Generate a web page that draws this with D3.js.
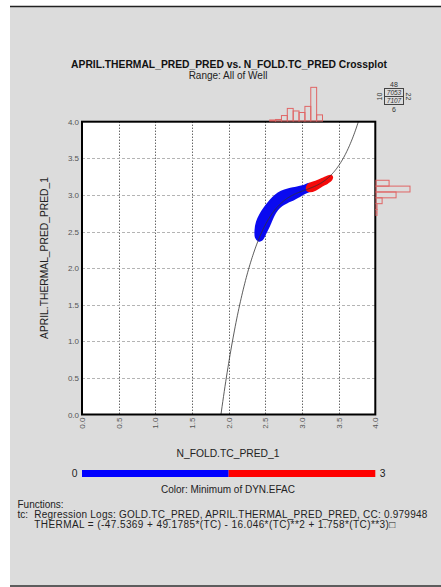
<!DOCTYPE html>
<html>
<head>
<meta charset="utf-8">
<script src="https://cdn.jsdelivr.net/npm/d3@7"></script>
<style>
  html, body { margin: 0; padding: 0; background: #ffffff; }
  svg { display: block; font-family: "Liberation Sans", Arial, sans-serif; }
</style>
</head>
<body>
<svg id="chart" width="441" height="587"></svg>
<script>
// Axis ticks (both axes run 0..4)
const xTicks = [0, 0.5, 1, 1.5, 2, 2.5, 3, 3.5, 4];
const yTicks = [0, 0.5, 1, 1.5, 2, 2.5, 3, 3.5, 4];

// Regression polynomial THERMAL = c0 + c1*TC + c2*TC^2 + c3*TC^3
const regCoef = [-47.5369, 49.1785, -16.046, 1.758];

// Outline of the dense blue point cloud (TC, THERMAL)
const blueCloud = [
  [2.410, 2.380], [2.375, 2.420], [2.370, 2.520], [2.390, 2.630], [2.435, 2.730],
  [2.500, 2.830], [2.570, 2.920], [2.640, 2.990], [2.720, 3.040], [2.820, 3.075],
  [2.920, 3.095], [3.020, 3.120], [3.110, 3.150], [3.160, 3.100], [3.150, 3.075],
  [3.050, 3.035], [2.970, 2.990], [2.890, 2.945], [2.800, 2.905], [2.720, 2.860],
  [2.660, 2.800], [2.610, 2.720], [2.570, 2.630], [2.530, 2.540], [2.490, 2.460],
  [2.450, 2.390]
];
// Outline of the red points (high DYN.EFAC)
const redCloud = [
  [3.085, 3.135], [3.204, 3.185], [3.294, 3.222], [3.372, 3.256], [3.406, 3.250],
  [3.399, 3.212], [3.345, 3.168], [3.272, 3.130], [3.181, 3.072], [3.113, 3.052],
  [3.072, 3.068]
];

// Marginal histograms (bin width 0.08)
const topHistStart = [2.56, 2.64, 2.72, 2.80, 2.88, 2.96, 3.04, 3.12, 3.20];
const topHistFreq  = [0.3, 0.45, 1.6, 3.7, 2.95, 2.5, 4.3, 9.9, 1.8];
const rightHistStart = [2.72, 2.80, 2.88, 2.96, 3.04, 3.12];
const rightHistFreq  = [0.3, 0.3, 1.8, 5.9, 10.0, 3.85];
const binWidth = 0.08;

// Out-of-range counts and totals
const countAbove = "48", countBelow = "6", countLeft = "10", countRight = "22";
const totalShown = "7053", totalAll = "7107";

// Colour scale endpoints
const colorMin = "0", colorMax = "3";

const svg = d3.select("#chart");

// Panel background
svg.append("rect").attr("x", 10).attr("y", 6).attr("width", 431).attr("height", 581)
  .attr("fill", "#dcdcdc");
svg.append("line").attr("x1", 10).attr("x2", 441).attr("y1", 6.5).attr("y2", 6.5)
  .attr("stroke", "#222").attr("stroke-width", 1.5);
svg.append("line").attr("x1", 10).attr("x2", 441).attr("y1", 586).attr("y2", 586)
  .attr("stroke", "#333").attr("stroke-width", 1.5);

const x = d3.scaleLinear().domain([0, 4]).range([82, 375.3]);
const y = d3.scaleLinear().domain([0, 4]).range([414.5, 121.7]);

// Titles
svg.append("text").attr("x", 229).attr("y", 67.5).attr("text-anchor", "middle")
  .attr("font-size", 10.3).attr("font-weight", "bold").attr("fill", "#111")
  .text("APRIL.THERMAL_PRED_PRED vs. N_FOLD.TC_PRED Crossplot");
svg.append("text").attr("x", 228).attr("y", 78.5).attr("text-anchor", "middle")
  .attr("font-size", 10).attr("fill", "#222")
  .text("Range: All of Well");

// Plot background
svg.append("rect").attr("x", x(0)).attr("y", y(4))
  .attr("width", x(4) - x(0)).attr("height", y(0) - y(4)).attr("fill", "#fff");

// Grid lines
svg.append("g").selectAll("line").data(xTicks.slice(1, -1)).join("line")
  .attr("x1", d => Math.round(x(d)) + 0.5).attr("x2", d => Math.round(x(d)) + 0.5)
  .attr("y1", y(4)).attr("y2", y(0))
  .attr("stroke", "#222").attr("stroke-width", 1).attr("stroke-dasharray", "1,2");
svg.append("g").selectAll("line").data(yTicks.slice(1, -1)).join("line")
  .attr("y1", d => Math.round(y(d)) + 0.5).attr("y2", d => Math.round(y(d)) + 0.5)
  .attr("x1", x(0)).attr("x2", x(4))
  .attr("stroke", "#b4b4b4").attr("stroke-width", 1).attr("stroke-dasharray", "3,2");

// Point clouds
const outline = d3.line().x(d => x(d[0])).y(d => y(d[1])).curve(d3.curveCatmullRomClosed);
svg.append("path").attr("d", outline(blueCloud))
  .attr("fill", "#0a0af0").attr("stroke", "#0a0af0").attr("stroke-width", 2.5)
  .attr("stroke-linejoin", "round");
svg.append("path").attr("d", outline(redCloud))
  .attr("fill", "#f50a0a").attr("stroke", "#f50a0a").attr("stroke-width", 2.5)
  .attr("stroke-linejoin", "round");

// Regression curve, clipped to the plot area
svg.append("clipPath").attr("id", "plotClip").append("rect")
  .attr("x", x(0)).attr("y", y(4)).attr("width", x(4) - x(0)).attr("height", y(0) - y(4));
const poly = t => regCoef[0] + regCoef[1] * t + regCoef[2] * t * t + regCoef[3] * t * t * t;
const curveTC = d3.range(1.85, 3.85, 0.01);
svg.append("path")
  .attr("clip-path", "url(#plotClip)")
  .attr("d", d3.line().x(t => x(t)).y(t => y(poly(t)))(curveTC))
  .attr("fill", "none").attr("stroke", "#333").attr("stroke-width", 0.8);

// Plot frame
svg.append("rect").attr("x", x(0)).attr("y", y(4))
  .attr("width", x(4) - x(0)).attr("height", y(0) - y(4))
  .attr("fill", "none").attr("stroke", "#000").attr("stroke-width", 2);

// Tick labels
svg.append("g").selectAll("text").data(yTicks).join("text")
  .attr("x", x(0) - 3).attr("y", d => y(d) + 3)
  .attr("text-anchor", "end").attr("font-size", 8).attr("fill", "#555")
  .text(d => d.toFixed(1));
svg.append("g").selectAll("text").data(xTicks).join("text")
  .attr("transform", d => `translate(${x(d) + 3},${y(0) + 3}) rotate(-90)`)
  .attr("text-anchor", "end").attr("font-size", 8).attr("fill", "#555")
  .text(d => d.toFixed(1));

// Axis titles
svg.append("text").attr("transform", "translate(48,258) rotate(-90)")
  .attr("text-anchor", "middle").attr("font-size", 10.3).attr("fill", "#222")
  .text("APRIL.THERMAL_PRED_PRED_1");
svg.append("text").attr("x", 228).attr("y", 457).attr("text-anchor", "middle")
  .attr("font-size", 10.3).attr("fill", "#222")
  .text("N_FOLD.TC_PRED_1");

// Marginal histograms
const h = d3.scaleLinear().domain([0, 10]).range([0, 34]);
svg.append("g").selectAll("rect").data(topHistStart).join("rect")
  .attr("x", d => x(d)).attr("width", d => x(d + binWidth) - x(d))
  .attr("y", (d, i) => 121 - h(topHistFreq[i])).attr("height", (d, i) => h(topHistFreq[i]))
  .attr("fill", "none").attr("stroke", "#e06666").attr("stroke-width", 1);
svg.append("g").selectAll("rect").data(rightHistStart).join("rect")
  .attr("x", 376).attr("width", (d, i) => h(rightHistFreq[i]))
  .attr("y", d => y(d + binWidth)).attr("height", d => y(d) - y(d + binWidth))
  .attr("fill", "none").attr("stroke", "#e06666").attr("stroke-width", 1);

// Count box
const bx = 384.5, by = 88.5, bw = 19, bhh = 8;
svg.append("rect").attr("x", bx).attr("y", by).attr("width", bw).attr("height", 2 * bhh)
  .attr("fill", "none").attr("stroke", "#444").attr("stroke-width", 1);
svg.append("line").attr("x1", bx).attr("x2", bx + bw).attr("y1", by + bhh).attr("y2", by + bhh)
  .attr("stroke", "#444").attr("stroke-width", 1);
const small = { "font-size": 7, "fill": "#333", "text-anchor": "middle" };
function addText(txt, tx, ty, rot, extra) {
  const t = svg.append("text").text(txt)
    .attr("transform", `translate(${tx},${ty})` + (rot ? ` rotate(${rot})` : ""));
  Object.entries(Object.assign({}, small, extra || {})).forEach(([k, v]) => t.attr(k, v));
}
addText(totalShown, bx + bw / 2, by + 6.5, 0, { "font-style": "italic", "font-size": 6.5 });
addText(totalAll, bx + bw / 2, by + bhh + 6.5, 0, { "font-style": "italic", "font-size": 6.5 });
addText(countAbove, bx + bw / 2, by - 2);
addText(countBelow, bx + bw / 2, by + 2 * bhh + 7.5);
addText(countLeft, bx - 2.5, by + bhh, -90);
addText(countRight, bx + bw + 2.5, by + bhh, 90);

// Colour bar
svg.append("rect").attr("x", x(0)).attr("y", 470).attr("width", (x(4) - x(0)) / 2).attr("height", 7)
  .attr("fill", "#0000ff");
svg.append("rect").attr("x", (x(0) + x(4)) / 2).attr("y", 470).attr("width", (x(4) - x(0)) / 2).attr("height", 7)
  .attr("fill", "#ff0000");
svg.append("text").attr("x", 74.5).attr("y", 477).attr("text-anchor", "middle")
  .attr("font-size", 10.3).attr("fill", "#222").text(colorMin);
svg.append("text").attr("x", 382.5).attr("y", 477).attr("text-anchor", "middle")
  .attr("font-size", 10.3).attr("fill", "#222").text(colorMax);
svg.append("text").attr("x", 228).attr("y", 492.5).attr("text-anchor", "middle")
  .attr("font-size", 10).attr("fill", "#222").text("Color: Minimum of DYN.EFAC");

// Function notes
const notes = [
  { x: 17.5, y: 507.5, t: "Functions:", w: null },
  { x: 17.5, y: 518, t: "tc:", w: null },
  { x: 34.3, y: 518, t: "Regression Logs: GOLD.TC_PRED, APRIL.THERMAL_PRED_PRED, CC: 0.979948", w: 393 },
  { x: 34.3, y: 527.5, t: "THERMAL = (-47.5369 + 49.1785*(TC) - 16.046*(TC)**2 + 1.758*(TC)**3)\u25A1", w: 361 }
];
svg.append("g").selectAll("text").data(notes).join("text")
  .attr("x", d => d.x).attr("y", d => d.y)
  .attr("font-size", 10).attr("fill", "#222")
  .each(function (d) {
    if (d.w) d3.select(this).attr("textLength", d.w).attr("lengthAdjust", "spacing");
  })
  .text(d => d.t);
</script>
</body>
</html>
